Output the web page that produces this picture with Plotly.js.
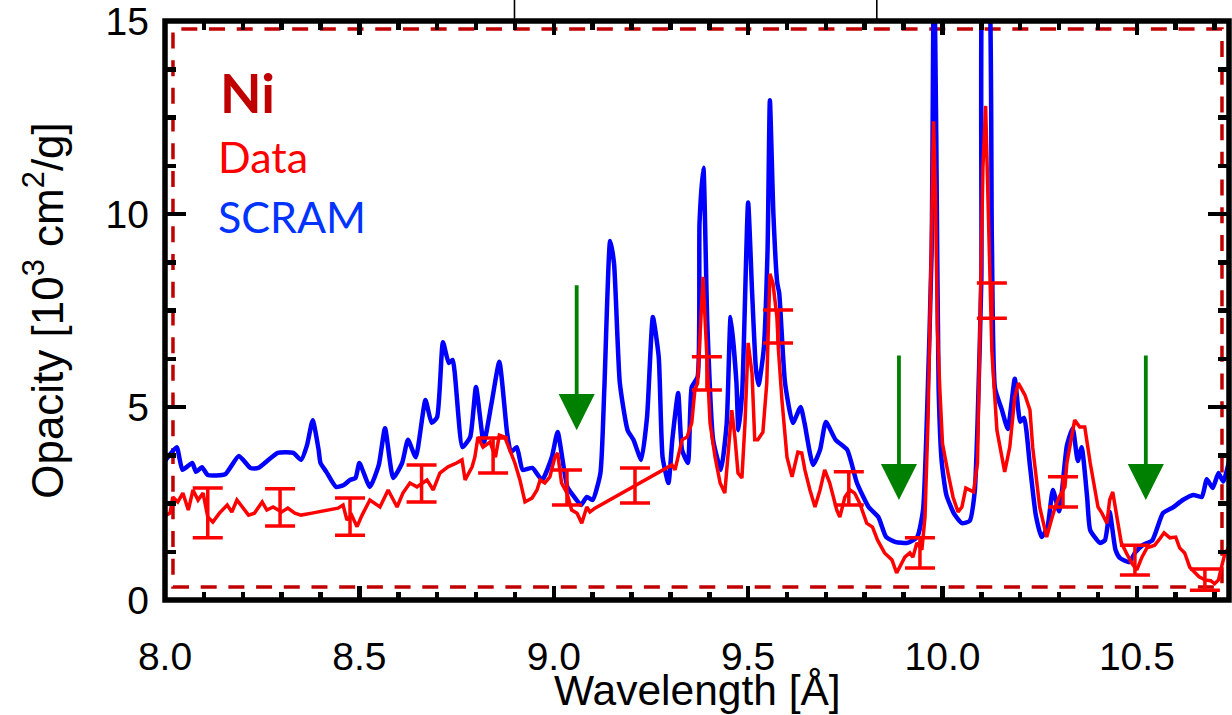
<!DOCTYPE html>
<html>
<head>
<meta charset="utf-8">
<script src="https://cdn.plot.ly/plotly-3.0.1.min.js"></script>
<style>html,body{margin:0;padding:0;background:#fff;}#chart{width:1232px;height:715px;}</style>
</head>
<body>
<div id="chart"></div>
<script>
// SCRAM model curve (wavelength in Å, opacity in 10^3 cm^2/g)
const scramX = [8.000,8.030,8.045,8.070,8.080,8.095,8.110,8.155,8.190,8.220,8.240,8.290,8.330,8.350,8.365,8.380,8.395,8.400,8.415,8.440,8.460,8.476,8.490,8.500,8.527,8.550,8.566,8.587,8.610,8.625,8.645,8.670,8.686,8.700,8.715,8.730,8.740,8.765,8.785,8.800,8.820,8.840,8.860,8.880,8.890,8.905,8.920,8.945,8.970,8.995,9.010,9.035,9.055,9.070,9.085,9.100,9.120,9.130,9.145,9.155,9.170,9.190,9.205,9.225,9.240,9.255,9.270,9.280,9.295,9.305,9.320,9.330,9.345,9.355,9.370,9.375,9.385,9.395,9.410,9.430,9.445,9.455,9.470,9.475,9.485,9.500,9.510,9.520,9.527,9.540,9.550,9.556,9.565,9.575,9.580,9.595,9.615,9.635,9.645,9.667,9.685,9.700,9.725,9.755,9.780,9.810,9.835,9.855,9.880,9.910,9.935,9.950,9.960,9.972,9.978,9.984,9.990,9.998,10.010,10.030,10.050,10.070,10.083,10.090,10.100,10.107,10.115,10.127,10.135,10.153,10.168,10.186,10.200,10.210,10.225,10.240,10.255,10.270,10.284,10.300,10.320,10.335,10.348,10.358,10.372,10.380,10.405,10.418,10.430,10.445,10.456,10.480,10.495,10.515,10.540,10.567,10.593,10.618,10.645,10.667,10.680,10.695,10.710,10.722,10.737];
const scramY = [3.60,3.96,3.37,3.55,3.32,3.44,3.24,3.26,3.73,3.42,3.42,3.81,3.81,3.63,4.00,4.66,3.90,3.55,3.32,2.93,2.98,3.11,3.16,3.55,2.93,3.50,4.45,3.16,3.55,4.15,3.70,5.18,4.59,4.74,6.68,6.14,6.22,3.96,4.22,5.52,4.07,5.10,6.17,4.33,3.83,3.96,3.37,3.42,3.11,3.70,4.35,2.93,2.64,2.46,2.67,2.59,3.29,5.44,9.30,8.73,5.62,4.40,4.15,3.63,4.74,7.33,6.30,3.70,3.03,4.15,5.36,3.89,3.55,5.52,5.78,9.77,11.20,7.18,4.15,3.37,4.59,7.33,5.62,4.40,5.44,10.30,8.03,6.00,5.57,6.48,9.07,12.95,10.00,8.21,7.95,5.62,4.59,5.00,4.59,3.50,3.89,4.61,4.15,3.89,3.03,2.41,2.15,1.63,1.50,1.48,1.63,2.33,4.74,9.00,17.00,12.00,5.49,3.58,2.72,2.23,1.99,2.05,2.82,4.53,8.34,17.00,17.00,9.30,5.49,4.92,4.43,5.73,4.62,4.72,3.47,2.20,1.63,1.89,2.85,2.30,4.00,4.45,3.60,3.96,2.67,1.81,1.48,1.55,2.28,1.30,1.09,0.98,1.22,1.42,1.55,2.25,2.40,2.59,2.72,2.67,3.13,2.90,3.29,3.07,3.58];

// Measured data curve
const dataX = [8.003,8.013,8.020,8.033,8.046,8.060,8.072,8.085,8.098,8.110,8.123,8.140,8.160,8.172,8.185,8.200,8.215,8.230,8.250,8.262,8.278,8.300,8.316,8.334,8.350,8.378,8.445,8.458,8.468,8.480,8.494,8.507,8.527,8.553,8.574,8.597,8.612,8.630,8.648,8.674,8.690,8.707,8.728,8.750,8.764,8.772,8.790,8.797,8.805,8.818,8.836,8.850,8.860,8.874,8.887,8.900,8.913,8.926,8.944,8.957,8.965,8.977,8.990,9.003,9.010,9.020,9.034,9.046,9.060,9.072,9.085,9.093,9.106,9.304,9.312,9.330,9.343,9.355,9.363,9.370,9.380,9.384,9.394,9.402,9.415,9.428,9.440,9.448,9.458,9.466,9.474,9.484,9.492,9.500,9.510,9.517,9.525,9.538,9.548,9.556,9.564,9.574,9.578,9.587,9.600,9.613,9.628,9.638,9.646,9.659,9.672,9.685,9.697,9.710,9.728,9.736,9.749,9.762,9.774,9.787,9.805,9.820,9.833,9.851,9.870,9.882,9.890,9.903,9.916,9.924,9.934,9.947,9.955,9.963,9.971,9.977,9.982,9.987,9.993,10.000,10.014,10.027,10.040,10.050,10.060,10.070,10.080,10.090,10.097,10.104,10.111,10.117,10.127,10.140,10.153,10.160,10.173,10.186,10.195,10.212,10.225,10.232,10.250,10.258,10.268,10.280,10.290,10.300,10.315,10.320,10.333,10.340,10.353,10.366,10.380,10.400,10.410,10.423,10.430,10.438,10.450,10.460,10.474,10.487,10.500,10.513,10.526,10.546,10.560,10.570,10.585,10.600,10.610,10.623,10.636,10.650,10.660,10.675,10.690,10.700,10.710,10.720,10.727,10.737];
const dataY = [2.20,2.25,2.67,2.54,2.77,2.33,2.85,2.59,2.77,2.15,2.02,2.25,2.46,2.28,2.59,2.41,2.20,2.25,2.54,2.33,2.41,2.28,2.38,2.25,2.20,2.25,2.38,2.46,2.07,2.20,1.90,2.20,2.59,2.41,2.85,2.41,2.77,3.03,2.93,3.11,2.85,3.29,3.45,3.55,3.63,3.11,3.45,3.70,4.22,3.96,4.09,3.70,4.27,4.22,3.89,3.55,3.11,2.54,2.64,2.85,3.11,3.03,3.19,3.70,3.81,3.03,2.77,2.33,2.25,1.99,2.41,2.28,2.38,3.50,3.37,4.15,4.22,4.59,5.44,5.62,7.59,8.37,6.30,4.59,3.70,3.03,2.77,3.70,4.92,4.22,3.29,3.16,4.59,6.66,5.88,4.15,4.15,4.35,5.62,8.45,8.20,7.33,6.48,5.18,3.70,3.19,3.83,3.81,3.37,2.85,2.41,2.85,3.37,3.03,2.33,2.15,2.67,2.85,2.77,2.51,1.99,1.89,1.55,1.22,1.04,0.70,0.85,1.11,1.22,1.11,1.48,1.30,2.15,4.74,9.00,12.40,10.50,7.00,5.49,4.05,3.30,2.67,2.28,2.41,2.90,2.85,2.80,3.55,7.00,11.20,12.80,10.30,6.45,4.40,3.70,3.32,3.96,5.26,5.62,5.31,4.92,3.96,2.41,2.07,1.63,2.07,2.41,2.67,2.93,3.55,4.33,4.66,4.48,4.48,3.55,2.41,2.25,1.99,2.59,2.80,2.07,1.48,1.20,0.95,0.78,1.11,1.35,1.42,1.60,1.74,1.61,1.63,1.35,1.22,0.85,0.70,0.60,0.52,0.50,0.42,0.52,0.95,1.22,1.37];

// Error bars on the data (lower and upper ends)
const errX  = [8.110,8.296,8.476,8.660,8.844,9.034,9.209,9.394,9.577,9.759,9.942,10.127,10.310,10.495,10.675];
const errLo = [1.61,1.92,1.68,2.54,3.29,2.46,2.51,5.44,6.66,2.46,0.83,7.30,2.41,0.65,0.25];
const errHi = [2.90,2.88,2.64,3.50,4.20,3.37,3.42,6.30,7.51,3.32,1.61,8.21,3.19,1.42,0.80];

// Green arrows: wavelength, tail and tip opacity
const arrowX    = [9.059, 9.888, 10.523];
const arrowTail = [8.19, 6.37, 6.37];
const arrowTip  = [4.40, 2.59, 2.59];

// Thin marks above the frame (from the source figure)
const topMarkX = [8.899, 9.831];

const errMid = errX.map((_, i) => (errLo[i] + errHi[i]) / 2);
const errHalf = errX.map((_, i) => (errHi[i] - errLo[i]) / 2);

const traces = [
  {x: scramX, y: scramY, type: 'scatter', mode: 'lines', name: 'SCRAM',
   line: {color: '#0000FF', width: 4.5, shape: 'spline', smoothing: 0.5}, hoverinfo: 'skip'},
  {x: dataX, y: dataY, type: 'scatter', mode: 'lines', name: 'Data',
   line: {color: '#FF0000', width: 3.5}, hoverinfo: 'skip'},
  {x: errX, y: errMid, type: 'scatter', mode: 'markers', name: 'err',
   marker: {size: 0.1, color: '#FF0000'},
   error_y: {type: 'data', array: errHalf, visible: true, color: '#FF0000', thickness: 3.5, width: 15}}
];

const tickFont = {family: 'Liberation Sans, Arial, sans-serif', size: 39, color: '#000'};

const shapes = [
  {type: 'rect', xref: 'paper', yref: 'paper', x0: 0, x1: 1, y0: 0, y1: 1,
   line: {color: '#000', width: 5.5}, layer: 'above'},
  {type: 'rect', xref: 'paper', yref: 'paper', x0: 0.0075, x1: 0.9934, y0: 0.0225, y1: 0.986,
   line: {color: '#C00000', width: 3.5, dash: '16px,11.7px'}, layer: 'below'}
];
topMarkX.forEach(v => shapes.push({type: 'line', xref: 'x', yref: 'paper', x0: v, x1: v, y0: 1, y1: 1.05,
  line: {color: '#000', width: 1.6}}));

const annotations = [
  {text: '<b>Ni</b>', xref: 'paper', yref: 'paper', x: 0.05, y: 0.876, xanchor: 'left', yanchor: 'middle',
   showarrow: false, font: {family: 'Lato, sans-serif', size: 54, color: '#C00000'}},
  {text: 'Data', xref: 'paper', yref: 'paper', x: 0.048, y: 0.766, xanchor: 'left', yanchor: 'middle',
   showarrow: false, font: {family: 'Lato, sans-serif', size: 43, color: '#FF0000'}},
  {text: 'SCRAM', xref: 'paper', yref: 'paper', x: 0.048, y: 0.663, xanchor: 'left', yanchor: 'middle',
   showarrow: false, font: {family: 'Lato, sans-serif', size: 43, color: '#0033FF'}},
  {text: 'Wavelength [Å]', xref: 'paper', yref: 'paper', x: 0.5, y: -0.157, xanchor: 'center', yanchor: 'middle',
   showarrow: false, font: {family: 'Liberation Sans, Arial, sans-serif', size: 42.5, color: '#000'}}
];
arrowX.forEach((v, i) => annotations.push({
  x: v, y: arrowTip[i], ax: v, ay: arrowTail[i], xref: 'x', yref: 'y', axref: 'x', ayref: 'y',
  text: '', showarrow: true, arrowhead: 2, arrowsize: 1.9, arrowwidth: 3.8, arrowcolor: '#008000', standoff: 0
}));

const layout = {
  width: 1232, height: 715,
  margin: {l: 165, r: 3, t: 21, b: 115, pad: 0},
  paper_bgcolor: '#fff', plot_bgcolor: '#fff',
  showlegend: false,
  xaxis: {
    range: [8.0, 10.737], tickmode: 'linear', tick0: 8, dtick: 0.5, tickformat: '.1f',
    ticks: 'inside', ticklen: 14, tickwidth: 4.5, tickcolor: '#000', mirror: 'ticks',
    showline: false, showgrid: false, zeroline: false,
    minor: {tick0: 8, dtick: 0.1, ticks: 'inside', ticklen: 8.5, tickwidth: 4.5, tickcolor: '#000', showgrid: false},
    tickfont: tickFont, ticklabelstandoff: 30, ticklabeloverflow: 'allow'
  },
  yaxis: {
    range: [-0.0001, 15.0005], tickmode: 'linear', tick0: 0, dtick: 5,
    ticks: 'inside', ticklen: 21, tickwidth: 4.5, tickcolor: '#000', mirror: 'ticks',
    showline: false, showgrid: false, zeroline: false,
    minor: {tick0: 0, dtick: 1.25, ticks: 'inside', ticklen: 11, tickwidth: 4.5, tickcolor: '#000', showgrid: false},
    tickfont: tickFont, ticklabelstandoff: 15, ticklabeloverflow: 'allow',
    title: {text: 'Opacity [10<sup>3</sup> cm<sup>2</sup>/g]', font: {family: 'Liberation Sans, Arial, sans-serif', size: 44, color: '#000'}, standoff: 28}
  },
  shapes: shapes,
  annotations: annotations
};

Plotly.newPlot('chart', traces, layout, {displayModeBar: false, staticPlot: true});
</script>
</body>
</html>
